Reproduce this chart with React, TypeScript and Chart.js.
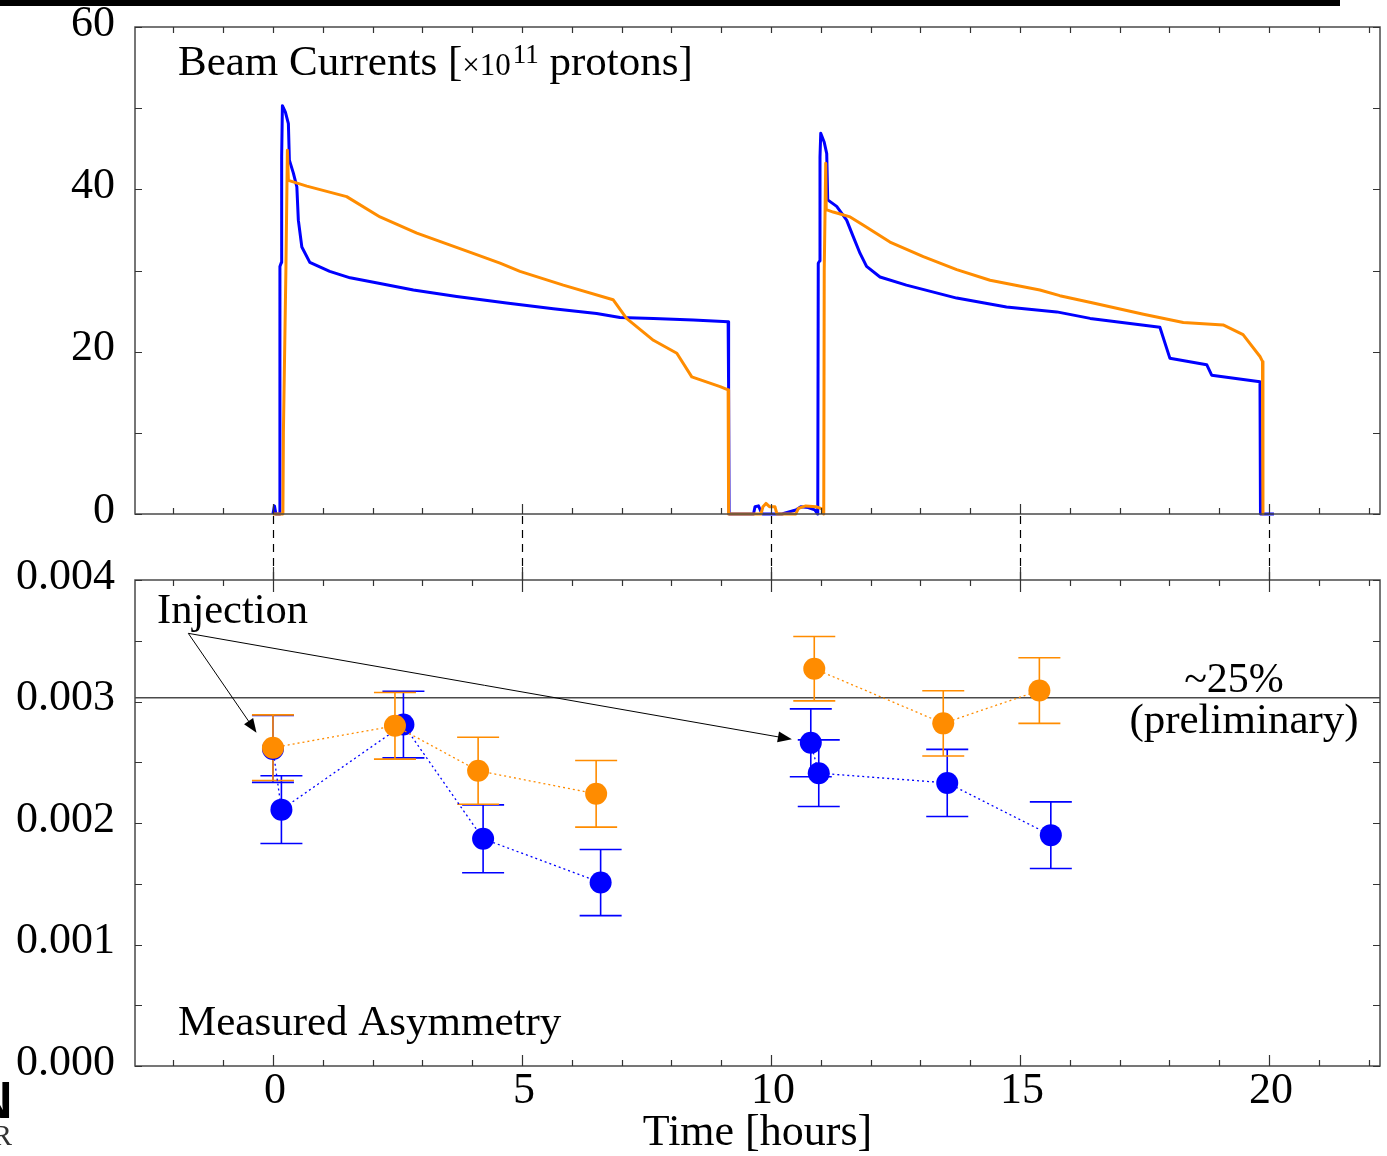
import React, { useEffect, useRef } from 'react';
import { Chart, registerables } from 'chart.js';

Chart.register(...registerables);

const BLUE = '#0000ff';
const ORANGE = '#ff8c00';
const FONT = "'Liberation Serif', 'Times New Roman', Times, serif";
const FRAME = '#4a4a4a';

// ---- time axis (hours)
const timeMin = -2.77;
const timeMax = 22.23;
const timeTickLabels = [0, 5, 10, 15, 20];

// ---- top panel: beam currents [x10^11 protons]
const beamTickLabels = [0, 20, 40, 60];
const blueBeamHours = [0.0, 0.03, 0.06, 0.13, 0.14, 0.17, 0.175, 0.19, 0.25, 0.31, 0.33, 0.41, 0.48, 0.51, 0.58, 0.74, 1.14, 1.55, 2.15, 2.82, 3.69, 4.69, 5.63, 6.5, 6.97, 7.64, 8.44, 9.14, 9.15, 9.16, 9.65, 9.68, 9.75, 9.8, 9.83, 10.22, 10.5, 10.6, 10.75, 10.88, 10.94, 10.95, 10.98, 10.985, 11.0, 11.07, 11.12, 11.14, 11.32, 11.52, 11.65, 11.79, 11.92, 12.19, 12.72, 13.73, 14.73, 15.74, 16.41, 17.81, 18.01, 18.75, 18.85, 19.82, 19.83, 20.1];
const blueBeamCurrent = [0, 1.0, 0, 0, 30.5, 31, 44, 50.3, 49.5, 48.1, 43.6, 42.0, 40.3, 36.2, 32.9, 31.0, 29.9, 29.1, 28.4, 27.6, 26.8, 26.0, 25.3, 24.7, 24.2, 24.1, 23.9, 23.7, 15.5, 0, 0, 0.9, 1.0, 0.3, 0, 0, 0.5, 0.9, 0.8, 0.5, 0, 30.9, 31.2, 44, 46.9, 45.8, 44.4, 38.7, 37.9, 36.2, 34.2, 32.1, 30.5, 29.2, 28.2, 26.6, 25.5, 24.9, 24.1, 23.0, 19.2, 18.4, 17.1, 16.3, 0, 0];

const orangeBeamHours = [0.0, 0.2, 0.21, 0.26, 0.29, 0.31, 0.68, 1.48, 2.15, 2.89, 4.02, 4.56, 4.96, 5.83, 6.83, 7.1, 7.64, 8.11, 8.41, 8.98, 9.14, 9.15, 9.8, 9.84, 9.9, 9.97, 10.08, 10.12, 10.5, 10.55, 10.7, 10.9, 11.04, 11.06, 11.07, 11.1, 11.11, 11.25, 11.59, 11.85, 12.39, 13.06, 13.73, 14.4, 15.4, 15.8, 16.47, 17.48, 18.28, 19.08, 19.48, 19.82, 19.87, 19.88];
const orangeBeamCurrent = [0, 0, 10, 30, 44.8, 41.1, 40.4, 39.1, 36.6, 34.6, 32.1, 30.9, 29.9, 28.2, 26.4, 24.1, 21.4, 19.8, 16.9, 15.7, 15.3, 0, 0, 0.9, 1.3, 0.9, 0.9, 0, 0, 0.7, 1.0, 0.9, 0.6, 0, 30, 43.2, 37.5, 37.2, 36.6, 35.6, 33.5, 31.7, 30.1, 28.8, 27.6, 26.9, 26.0, 24.6, 23.6, 23.3, 22.1, 19.4, 18.8, 0];

// ---- bottom panel: measured asymmetry
const asymTickLabels = [0, 0.001, 0.002, 0.003, 0.004];
const blueAsymHours = [0.0, 0.17, 2.62, 4.22, 6.58, 10.8, 10.96, 13.54, 15.62];
const blueAsymValues = [0.00261, 0.00211, 0.00281, 0.00187, 0.00151, 0.00266, 0.00241, 0.00233, 0.0019];
const blueAsymErrors = [0.000276, 0.000279, 0.000274, 0.000279, 0.000272, 0.000279, 0.000274, 0.000276, 0.000274];
const blueAsymFill = [1, 1, 1, 1, 1, 2, 2, 2, 2];

const orangeAsymHours = [0.0, 2.45, 4.12, 6.49, 10.87, 13.46, 15.39];
const orangeAsymValues = [0.00262, 0.0028, 0.00243, 0.00224, 0.00327, 0.00282, 0.00309];
const orangeAsymErrors = [0.00027, 0.000274, 0.000276, 0.000274, 0.000265, 0.000269, 0.00027];
const orangeAsymFill = [1, 1, 1, 1, 2, 2, 2];

const referenceAsymmetry = 0.00303;
const injectionArrowTail = { x: -1.7, y: 0.003561 };
const injectionArrowTips = [
  { x: -0.33, y: 0.002743 },
  { x: 10.42, y: 0.002689 },
];

function fillDatasets(hours: number[], values: number[], errors: number[], fills: number[], color: string) {
  const ids = Array.from(new Set(fills));
  return ids.map((f) => {
    const idx = hours.map((_, i) => i).filter((i) => fills[i] === f);
    return {
      data: idx.map((i) => ({ x: hours[i], y: values[i] })),
      errors: idx.map((i) => errors[i]),
      borderColor: color,
      backgroundColor: color,
      borderWidth: 1.3,
      borderDash: [2, 3],
      pointRadius: 11,
      pointHoverRadius: 11,
      pointBackgroundColor: color,
      pointBorderColor: color,
      pointBorderWidth: 0,
      showLine: true,
      tension: 0,
      clip: false,
    } as any;
  });
}

function drawArrow(ctx: CanvasRenderingContext2D, x0: number, y0: number, x1: number, y1: number) {
  const ang = Math.atan2(y1 - y0, x1 - x0);
  const len = 14;
  const hw = 5.5;
  ctx.beginPath();
  ctx.moveTo(x0, y0);
  ctx.lineTo(x1 - Math.cos(ang) * len * 0.8, y1 - Math.sin(ang) * len * 0.8);
  ctx.stroke();
  ctx.beginPath();
  ctx.moveTo(x1, y1);
  ctx.lineTo(x1 - Math.cos(ang) * len - Math.sin(ang) * hw, y1 - Math.sin(ang) * len + Math.cos(ang) * hw);
  ctx.lineTo(x1 - Math.cos(ang) * len + Math.sin(ang) * hw, y1 - Math.sin(ang) * len - Math.cos(ang) * hw);
  ctx.closePath();
  ctx.fill();
}

function drawYLabels(ctx: CanvasRenderingContext2D, chart: any, values: number[], fmt: (v: number) => string) {
  const a = chart.chartArea;
  const ys = chart.scales.y;
  ctx.fillStyle = '#000';
  ctx.font = `44px ${FONT}`;
  ctx.textAlign = 'right';
  ctx.textBaseline = 'middle';
  for (const v of values) {
    ctx.fillText(fmt(v), a.left - 20, ys.getPixelForValue(v) - 3);
  }
}

const topPlugin = {
  id: 'topDecor',
  afterDraw(chart: any) {
    const { ctx, chartArea: a, scales } = chart;
    const xs = scales.x;
    const ys = scales.y;
    ctx.save();
    // frame
    ctx.strokeStyle = FRAME;
    ctx.lineWidth = 1.5;
    ctx.strokeRect(a.left, a.top, a.right - a.left, a.bottom - a.top);
    // ticks
    ctx.strokeStyle = '#333';
    ctx.lineWidth = 1.2;
    ctx.beginPath();
    for (let h = Math.ceil(xs.min); h <= Math.floor(xs.max); h++) {
      const px = Math.round(xs.getPixelForValue(h)) + 0.5;
      const major = h % 5 === 0;
      ctx.moveTo(px, a.bottom);
      ctx.lineTo(px, a.bottom - (major ? 10 : 6));
      ctx.moveTo(px, a.top);
      ctx.lineTo(px, a.top + 6);
    }
    for (let v = 0; v <= ys.max + 1e-9; v += 10) {
      const py = Math.round(ys.getPixelForValue(v)) + 0.5;
      ctx.moveTo(a.left, py);
      ctx.lineTo(a.left + 7, py);
      ctx.moveTo(a.right, py);
      ctx.lineTo(a.right - 7, py);
    }
    ctx.stroke();
    // dashed connectors to the lower panel
    ctx.strokeStyle = '#000';
    ctx.lineWidth = 1.2;
    ctx.setLineDash([8, 6]);
    ctx.beginPath();
    for (const t of timeTickLabels) {
      const px = Math.round(xs.getPixelForValue(t)) + 0.5;
      ctx.moveTo(px, a.bottom + 2);
      ctx.lineTo(px, chart.height);
    }
    ctx.stroke();
    ctx.setLineDash([]);
    drawYLabels(ctx, chart, beamTickLabels, (v) => String(v));
    // title
    ctx.fillStyle = '#000';
    ctx.textAlign = 'left';
    ctx.textBaseline = 'alphabetic';
    let x = a.left + 43;
    const base = a.top + 48;
    ctx.font = `43px ${FONT}`;
    ctx.fillText('Beam Currents [', x, base);
    x += ctx.measureText('Beam Currents [').width;
    ctx.font = `31px ${FONT}`;
    ctx.fillText('\u00d710', x, base);
    x += ctx.measureText('\u00d710').width + 2;
    ctx.font = `27px ${FONT}`;
    ctx.fillText('11', x, base - 12);
    x += ctx.measureText('11').width;
    ctx.font = `43px ${FONT}`;
    ctx.fillText(' protons]', x, base);
    ctx.restore();
  },
};

const bottomPlugin = {
  id: 'bottomDecor',
  beforeDatasetsDraw(chart: any) {
    const { ctx, chartArea: a, scales } = chart;
    const xs = scales.x;
    const ys = scales.y;
    ctx.save();
    // reference line
    const ry = ys.getPixelForValue(referenceAsymmetry);
    ctx.strokeStyle = FRAME;
    ctx.lineWidth = 1.5;
    ctx.beginPath();
    ctx.moveTo(a.left, ry);
    ctx.lineTo(a.right, ry);
    ctx.stroke();
    // error bars
    const n = chart.data.datasets.length;
    for (let d = n - 1; d >= 0; d--) {
      const ds: any = chart.data.datasets[d];
      if (!ds.errors) continue;
      ctx.strokeStyle = ds.borderColor;
      ctx.lineWidth = 1.6;
      ctx.beginPath();
      ds.data.forEach((p: any, i: number) => {
        const px = xs.getPixelForValue(p.x);
        const yHi = ys.getPixelForValue(p.y + ds.errors[i]);
        const yLo = ys.getPixelForValue(p.y - ds.errors[i]);
        ctx.moveTo(px, yHi);
        ctx.lineTo(px, yLo);
        ctx.moveTo(px - 21, yHi);
        ctx.lineTo(px + 21, yHi);
        ctx.moveTo(px - 21, yLo);
        ctx.lineTo(px + 21, yLo);
      });
      ctx.stroke();
    }
    ctx.restore();
  },
  afterDraw(chart: any) {
    const { ctx, chartArea: a, scales } = chart;
    const xs = scales.x;
    const ys = scales.y;
    ctx.save();
    ctx.strokeStyle = FRAME;
    ctx.lineWidth = 1.5;
    ctx.strokeRect(a.left, a.top, a.right - a.left, a.bottom - a.top);
    ctx.strokeStyle = '#333';
    ctx.lineWidth = 1.2;
    ctx.beginPath();
    for (let h = Math.ceil(xs.min); h <= Math.floor(xs.max); h++) {
      const px = Math.round(xs.getPixelForValue(h)) + 0.5;
      const major = h % 5 === 0;
      ctx.moveTo(px, a.bottom);
      ctx.lineTo(px, a.bottom - (major ? 11 : 6));
      if (major) {
        ctx.moveTo(px, a.top - 13);
        ctx.lineTo(px, a.top + 12);
      } else {
        ctx.moveTo(px, a.top);
        ctx.lineTo(px, a.top + 6);
      }
    }
    for (let k = 0; k <= 8; k++) {
      const py = Math.round(ys.getPixelForValue(k * 0.0005)) + 0.5;
      ctx.moveTo(a.left, py);
      ctx.lineTo(a.left + 7, py);
      ctx.moveTo(a.right, py);
      ctx.lineTo(a.right - 7, py);
    }
    ctx.stroke();
    drawYLabels(ctx, chart, asymTickLabels, (v) => v.toFixed(3));
    // x tick labels
    ctx.fillStyle = '#000';
    ctx.font = `44px ${FONT}`;
    ctx.textAlign = 'center';
    ctx.textBaseline = 'middle';
    for (const t of timeTickLabels) {
      ctx.fillText(String(t), xs.getPixelForValue(t) + 2, a.bottom + 25);
    }
    // annotations
    ctx.fillStyle = '#000';
    ctx.strokeStyle = '#000';
    ctx.lineWidth = 1;
    const tx = xs.getPixelForValue(injectionArrowTail.x);
    const ty = ys.getPixelForValue(injectionArrowTail.y);
    for (const tip of injectionArrowTips) {
      drawArrow(ctx, tx, ty, xs.getPixelForValue(tip.x), ys.getPixelForValue(tip.y));
    }
    ctx.textBaseline = 'alphabetic';
    ctx.textAlign = 'left';
    ctx.font = `42.5px ${FONT}`;
    ctx.fillText('Injection', a.left + 22, a.top + 43);
    ctx.font = `43px ${FONT}`;
    ctx.fillText('Measured Asymmetry', a.left + 43, a.top + 455);
    ctx.textAlign = 'center';
    ctx.font = `42px ${FONT}`;
    ctx.fillText('~25%', 1234, a.top + 112);
    ctx.font = `43px ${FONT}`;
    ctx.fillText('(preliminary)', 1244, a.top + 153);
    ctx.font = `44px ${FONT}`;
    ctx.textBaseline = 'middle';
    ctx.fillText('Time [hours]', (a.left + a.right) / 2, a.bottom + 67);
    ctx.restore();
  },
};

export default function App() {
  const topRef = useRef<HTMLCanvasElement>(null);
  const botRef = useRef<HTMLCanvasElement>(null);

  useEffect(() => {
    const beamDs = (hours: number[], vals: number[], color: string) => ({
      data: hours.map((x, i) => ({ x, y: vals[i] })),
      borderColor: color,
      backgroundColor: color,
      borderWidth: 3,
      pointRadius: 0,
      tension: 0,
      clip: false,
      borderJoinStyle: 'round' as const,
    });

    const hiddenLabels = { display: false };

    const top = new Chart(topRef.current!, {
      type: 'line',
      data: {
        datasets: [
          beamDs(orangeBeamHours, orangeBeamCurrent, ORANGE),
          beamDs(blueBeamHours, blueBeamCurrent, BLUE),
        ],
      },
      options: {
        responsive: false,
        animation: false,
        devicePixelRatio: 1,
        events: [],
        layout: { autoPadding: false, padding: { top: 27, right: 7, bottom: 66, left: 0 } },
        plugins: { legend: { display: false }, tooltip: { enabled: false } },
        scales: {
          x: { type: 'linear', min: timeMin, max: timeMax, display: false },
          y: {
            type: 'linear',
            min: 0,
            max: 60,
            grid: { display: false, drawTicks: false },
            border: { display: false },
            ticks: hiddenLabels,
            afterFit: (s: any) => {
              s.width = 135;
            },
          },
        },
      },
      plugins: [topPlugin],
    } as any);

    const bot = new Chart(botRef.current!, {
      type: 'line',
      data: {
        datasets: [
          ...fillDatasets(orangeAsymHours, orangeAsymValues, orangeAsymErrors, orangeAsymFill, ORANGE),
          ...fillDatasets(blueAsymHours, blueAsymValues, blueAsymErrors, blueAsymFill, BLUE),
        ],
      },
      options: {
        responsive: false,
        animation: false,
        devicePixelRatio: 1,
        events: [],
        layout: { autoPadding: false, padding: { top: 30, right: 7, bottom: 90, left: 0 } },
        plugins: { legend: { display: false }, tooltip: { enabled: false } },
        scales: {
          x: { type: 'linear', min: timeMin, max: timeMax, display: false },
          y: {
            type: 'linear',
            min: 0,
            max: 0.004,
            grid: { display: false, drawTicks: false },
            border: { display: false },
            ticks: hiddenLabels,
            afterFit: (s: any) => {
              s.width = 135;
            },
          },
        },
      },
      plugins: [bottomPlugin],
    } as any);

    return () => {
      top.destroy();
      bot.destroy();
    };
  }, []);

  return (
    <div style={{ position: 'absolute', left: 0, top: 0, width: 1387, height: 1156, background: '#fff', overflow: 'hidden' }}>
      <canvas ref={topRef} width={1387} height={580} style={{ position: 'absolute', left: 0, top: 0 }} />
      <canvas ref={botRef} width={1387} height={606} style={{ position: 'absolute', left: 0, top: 550 }} />
      <div style={{ position: 'absolute', left: 0, top: 0, width: 1340, height: 6, background: '#000' }} />
      <div style={{ position: 'absolute', left: -25, top: 1074, fontFamily: "'Liberation Sans', Arial, sans-serif", fontWeight: 'bold', fontSize: 52, lineHeight: '52px', color: '#000' }}>N</div>
      <div style={{ position: 'absolute', left: -8, top: 1120, fontFamily: FONT, fontSize: 30, lineHeight: '30px', color: '#333' }}>R</div>
    </div>
  );
}
